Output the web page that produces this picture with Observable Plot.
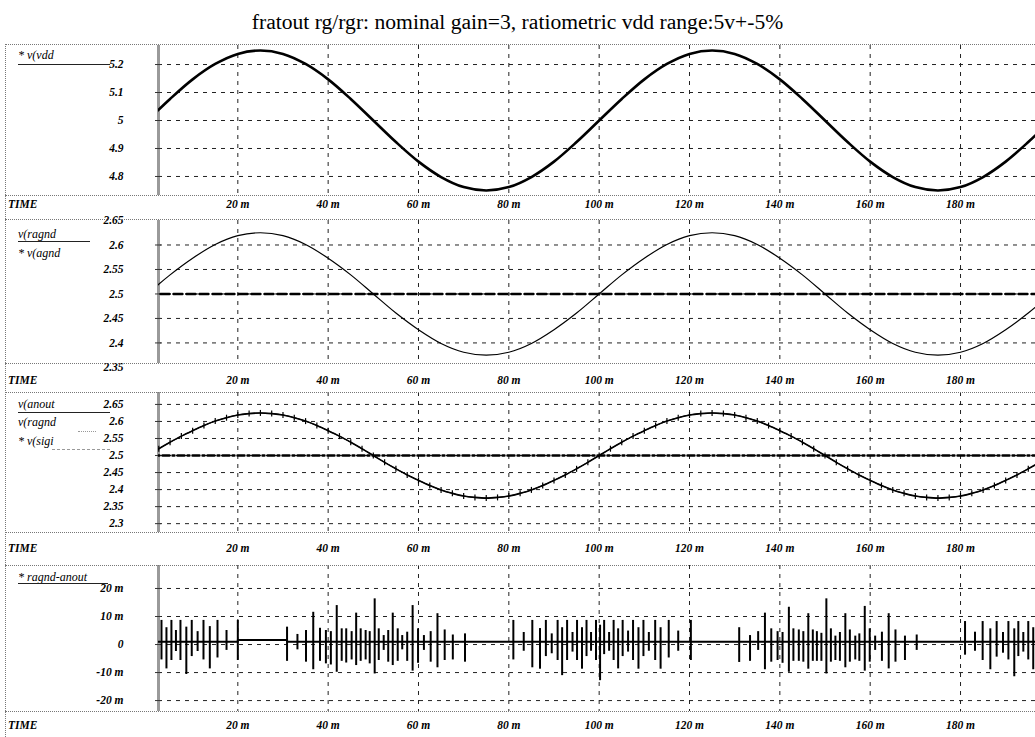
<!DOCTYPE html>
<html>
<head>
<meta charset="utf-8">
<script src="https://cdn.jsdelivr.net/npm/d3@7"></script>
<script src="https://cdn.jsdelivr.net/npm/@observablehq/plot@0.6"></script>
<style>
  html, body { margin: 0; padding: 0; background: #fff; }
  body { position: relative; width: 1035px; height: 737px; overflow: hidden; font-family: "Liberation Serif", "Times New Roman", serif; color: #000; }
  #title { position: absolute; left: 0; top: 11px; width: 1035px; text-align: center; font-size: 21.6px; line-height: 22px; }
  .panel { position: absolute; left: 0; width: 1035px; }
  .panel svg { display: block; }
  .hline { position: absolute; left: 5px; width: 1030px; height: 0; border-top: 1px dotted #777; }
  .vline { position: absolute; left: 5px; top: 44px; width: 0; height: 693px; border-left: 1px dotted #777; }
  .lab { position: absolute; font-style: italic; font-size: 12px; line-height: 12px; white-space: nowrap; }
  .time { font-weight: bold; font-size: 11.5px; }
  .rule { position: absolute; height: 0; }
</style>
</head>
<body>
<div id="title">fratout rg/rgr: nominal gain=3, ratiometric vdd range:5v+-5%</div>
<div class="vline"></div>
<div id="chart"></div>
<script>
// ---- time axis (ms) ----
const timeTicks = [20, 40, 60, 80, 100, 120, 140, 160, 180];
const timeDomain = [2.44, 196.6];

// ---- supply voltage v(vdd), sampled every 5 ms ----
const t5 = [0, 5, 10, 15, 20, 25, 30, 35, 40, 45, 50, 55, 60, 65, 70, 75, 80, 85, 90, 95,
  100, 105, 110, 115, 120, 125, 130, 135, 140, 145, 150, 155, 160, 165, 170, 175, 180, 185, 190, 195, 200];
const vdd = [5.000, 5.077, 5.147, 5.202, 5.238, 5.250, 5.238, 5.202, 5.147, 5.077,
  5.000, 4.923, 4.853, 4.798, 4.762, 4.750, 4.762, 4.798, 4.853, 4.923,
  5.000, 5.077, 5.147, 5.202, 5.238, 5.250, 5.238, 5.202, 5.147, 5.077,
  5.000, 4.923, 4.853, 4.798, 4.762, 4.750, 4.762, 4.798, 4.853, 4.923, 5.000];

// ---- ratiometric ground v(ragnd), sampled every 5 ms ----
const ragnd = [2.500, 2.539, 2.573, 2.601, 2.619, 2.625, 2.619, 2.601, 2.573, 2.539,
  2.500, 2.461, 2.427, 2.399, 2.381, 2.375, 2.381, 2.399, 2.427, 2.461,
  2.500, 2.539, 2.573, 2.601, 2.619, 2.625, 2.619, 2.601, 2.573, 2.539,
  2.500, 2.461, 2.427, 2.399, 2.381, 2.375, 2.381, 2.399, 2.427, 2.461, 2.500];

// ---- fixed references v(agnd) and v(sigi) ----
const tRef = [0, 200];
const agnd = [2.5, 2.5];
const sigi = [2.5, 2.5];

// ---- converter output v(anout), sampled every 2.5 ms ----
const t25 = [0, 2.5, 5, 7.5, 10, 12.5, 15, 17.5, 20, 22.5, 25, 27.5, 30, 32.5, 35, 37.5, 40, 42.5, 45, 47.5,
  50, 52.5, 55, 57.5, 60, 62.5, 65, 67.5, 70, 72.5, 75, 77.5, 80, 82.5, 85, 87.5, 90, 92.5, 95, 97.5,
  100, 102.5, 105, 107.5, 110, 112.5, 115, 117.5, 120, 122.5, 125, 127.5, 130, 132.5, 135, 137.5, 140, 142.5, 145, 147.5,
  150, 152.5, 155, 157.5, 160, 162.5, 165, 167.5, 170, 172.5, 175, 177.5, 180, 182.5, 185, 187.5, 190, 192.5, 195, 197.5, 200];
const anout = [2.500, 2.520, 2.539, 2.557, 2.573, 2.588, 2.601, 2.611, 2.619, 2.623,
  2.625, 2.623, 2.619, 2.611, 2.601, 2.588, 2.573, 2.557, 2.539, 2.520,
  2.500, 2.480, 2.461, 2.443, 2.427, 2.412, 2.399, 2.389, 2.381, 2.377,
  2.375, 2.377, 2.381, 2.389, 2.399, 2.412, 2.427, 2.443, 2.461, 2.480,
  2.500, 2.520, 2.539, 2.557, 2.573, 2.588, 2.601, 2.611, 2.619, 2.623,
  2.625, 2.623, 2.619, 2.611, 2.601, 2.588, 2.573, 2.557, 2.539, 2.520,
  2.500, 2.480, 2.461, 2.443, 2.427, 2.412, 2.399, 2.389, 2.381, 2.377,
  2.375, 2.377, 2.381, 2.389, 2.399, 2.412, 2.427, 2.443, 2.461, 2.480, 2.500];

// ---- difference ragnd-anout (mV): quiet baseline plus step glitches ----
const baseT = [0, 20.0, 20.0, 30.9, 30.9, 200];
const baseV = [1.0, 1.0, 1.6, 1.6, 1.0, 1.0];
const spikeT = [3.1, 4.2, 5.3, 6.3, 7.3, 8.6, 9.8, 11.1, 12.4, 13.8, 15.5, 17.5, 20.0,
  30.9, 33.2, 35.1, 36.7, 38.2, 39.5, 40.6, 41.9, 43.0, 44.0, 45.2, 46.2, 47.2, 48.3, 49.2, 50.3,
  51.2, 52.3, 53.3, 54.3, 55.4, 56.4, 57.5, 58.7, 59.9, 61.2, 62.7, 64.2, 65.8, 67.6, 70.3,
  81.0, 83.3, 85.2, 86.9, 88.2, 89.5, 90.8, 91.8, 92.9, 94.1, 95.1, 96.2, 97.2, 98.2, 99.3, 100.2,
  101.1, 102.2, 103.2, 104.2, 105.2, 106.4, 107.5, 108.7, 109.8, 111.0, 112.4, 113.6, 115.4, 117.5, 120.3,
  131.0, 133.4, 135.2, 136.7, 138.1, 139.5, 140.6, 142.0, 143.0, 144.2, 145.2, 146.3, 147.3, 148.2, 149.2,
  150.3, 151.3, 152.3, 153.3, 154.5, 155.5, 156.7, 157.6, 158.8, 159.9, 161.1, 162.6, 164.1, 165.6, 167.7, 170.3,
  181.0, 183.2, 184.9, 186.6, 188.0, 189.4, 190.6, 191.9, 192.8, 193.9, 195.0, 196.1];
const spikeHi = [8.6, 6.0, 8.6, 5.0, 8.6, 6.2, 8.6, 4.6, 8.6, 6.4, 8.6, 5.0, 8.6,
  6.2, 3.6, 5.0, 11.5, 5.8, 5.0, 4.6, 13.9, 5.6, 5.6, 4.6, 11.2, 5.6, 5.0, 4.6, 16.3,
  5.6, 3.2, 5.0, 11.2, 5.6, 3.2, 4.4, 13.9, 5.6, 3.2, 4.6, 11.0, 5.2, 3.4, 3.8,
  8.6, 4.3, 8.6, 5.7, 8.6, 3.8, 8.6, 6.0, 8.6, 4.3, 8.6, 6.0, 8.6, 4.3, 8.6, 6.9,
  8.6, 4.3, 8.6, 5.6, 8.6, 4.8, 8.6, 6.0, 8.6, 4.3, 8.6, 6.0, 8.6, 4.8, 8.6,
  6.0, 3.2, 4.6, 11.2, 5.6, 4.6, 4.3, 13.3, 5.6, 5.2, 4.6, 11.0, 5.2, 4.6, 4.0,
  16.3, 5.6, 3.0, 4.3, 11.0, 5.2, 3.0, 3.8, 13.6, 5.6, 3.0, 4.4, 11.0, 5.2, 3.0, 3.4,
  8.2, 4.4, 8.2, 5.6, 8.2, 4.3, 8.2, 5.6, 8.2, 4.3, 8.2, 6.0];
const spikeLo = [-5.5, -8.7, -5.7, -2.5, -5.7, -10.7, -4.3, -2.5, -5.5, -8.7, -4.8, -2.1, -5.7,
  -6.0, -1.9, -6.3, -9.0, -6.0, -6.9, -7.3, -9.9, -6.0, -6.6, -5.5, -7.5, -6.0, -5.5, -6.9, -10.5,
  -5.7, -2.1, -6.3, -7.5, -6.0, -1.9, -6.0, -9.5, -6.7, -2.1, -6.3, -8.3, -5.7, -5.5, -6.3,
  -5.5, -2.4, -8.3, -8.8, -4.3, -3.3, -5.7, -11.1, -5.7, -2.7, -5.7, -8.8, -4.3, -2.4, -5.7, -12.9,
  -3.6, -2.4, -5.7, -8.7, -4.3, -2.7, -5.7, -8.8, -4.3, -2.4, -5.7, -8.8, -4.8, -2.4, -5.7,
  -6.4, -6.0, -2.1, -9.0, -6.3, -5.7, -6.7, -9.9, -6.0, -6.0, -6.3, -8.8, -6.0, -6.0, -6.0,
  -10.5, -6.3, -5.7, -6.0, -8.3, -6.3, -5.5, -6.0, -9.5, -6.3, -2.1, -6.0, -8.7, -6.3, -5.7, -2.1,
  -3.8, -2.4, -5.7, -9.0, -4.5, -3.1, -5.5, -11.5, -4.3, -2.7, -5.5, -9.0];

// ---- tables built from the arrays above ----
const zip = (ts, vs) => ts.map((t, i) => ({t, v: vs[i]}));
const vddRows = zip(t5, vdd);
const ragndRows = zip(t5, ragnd);
const agndRows = zip(tRef, agnd);
const sigiRows = zip(tRef, sigi);
const anoutRows = zip(t25, anout);
const baseRows = zip(baseT, baseV);
const spikeRows = spikeT.map((t, i) => ({t, hi: spikeHi[i], lo: spikeLo[i]}));

const numFmt = d => String(+d.toFixed(2));
const milliFmt = d => d === 0 ? "0" : `${d} m`;

// small vertical tick used as the trace marker on v(anout)
const vTick = {
  draw(context, size) {
    const h = Math.sqrt(size / Math.PI);
    context.moveTo(0, -h);
    context.lineTo(0, h);
  }
};

const gridStyle = {stroke: "#222", strokeOpacity: 1, strokeWidth: 1, strokeDasharray: "4,5"};

// yLabels may include values just past the panel edge (labelled, but without a grid line)
function panel({top, plotH, bottomH, domain, yTicks, yLabels = yTicks, yFmt, xPad, marks}) {
  const chart = Plot.plot({
    width: 1035,
    height: plotH + bottomH,
    marginLeft: 158,
    marginRight: 0,
    marginTop: 0,
    marginBottom: bottomH,
    style: {fontFamily: "'Liberation Serif', 'Times New Roman', serif", fontSize: "11.5px", fontStyle: "italic", fontWeight: "bold", color: "#000", background: "transparent", overflow: "visible"},
    x: {domain: timeDomain, label: null},
    y: {domain, label: null},
    marks: [
      Plot.gridX({ticks: timeTicks, ...gridStyle}),
      Plot.gridY({ticks: yTicks, ...gridStyle}),
      Plot.ruleX([timeDomain[0]], {stroke: "#9a9a9a", strokeWidth: 3}),
      Plot.axisY({ticks: yTicks, tickSize: 6, dx: 3, tickFormat: () => "", stroke: "#333", label: null}),
      Plot.axisY({ticks: yLabels, tickSize: 0, tickPadding: 35, tickFormat: yFmt, fill: "#000", label: null}),
      Plot.axisX({ticks: timeTicks, tickSize: 0, tickPadding: xPad, tickFormat: d => `${d} m`, fill: "#000", label: null}),
      ...marks
    ]
  });
  const wrap = document.createElement("div");
  wrap.className = "panel";
  wrap.style.top = top + "px";
  wrap.appendChild(chart);
  document.getElementById("chart").appendChild(wrap);
}

// v(vdd)
panel({
  top: 45, plotH: 150, bottomH: 24, domain: [4.732, 5.268],
  yTicks: [4.8, 4.9, 5, 5.1, 5.2], yFmt: numFmt, xPad: 4.5,
  marks: [Plot.line(vddRows, {x: "t", y: "v", curve: "catmull-rom", stroke: "#000", strokeWidth: 2.6, clip: true})]
});

// v(ragnd), v(agnd)
panel({
  top: 220, plotH: 143, bottomH: 29, domain: [2.358, 2.65],
  yTicks: [2.4, 2.45, 2.5, 2.55, 2.6], yLabels: [2.35, 2.4, 2.45, 2.5, 2.55, 2.6, 2.65], yFmt: numFmt, xPad: 12.5,
  marks: [
    Plot.line(agndRows, {x: "t", y: "v", stroke: "#000", strokeWidth: 2.4, strokeDasharray: "9,4", clip: true}),
    Plot.line(ragndRows, {x: "t", y: "v", curve: "catmull-rom", stroke: "#000", strokeWidth: 1.2, clip: true})
  ]
});

// v(anout), v(ragnd), v(sigi)
panel({
  top: 392, plotH: 140, bottomH: 33, domain: [2.274, 2.685],
  yTicks: [2.3, 2.35, 2.4, 2.45, 2.5, 2.55, 2.6, 2.65], yFmt: numFmt, xPad: 11.5,
  marks: [
    Plot.line(sigiRows, {x: "t", y: "v", stroke: "#000", strokeWidth: 2.4, strokeDasharray: "7,3,2,3", clip: true}),
    Plot.line(ragndRows, {x: "t", y: "v", curve: "catmull-rom", stroke: "#000", strokeWidth: 1, clip: true}),
    Plot.line(anoutRows, {x: "t", y: "v", curve: "catmull-rom", stroke: "#000", strokeWidth: 1.6, clip: true}),
    Plot.dot(anoutRows, {x: "t", y: "v", symbol: vTick, r: 3, stroke: "#000", fill: "none", strokeWidth: 1.2, clip: true})
  ]
});

// ragnd-anout
panel({
  top: 565, plotH: 146, bottomH: 26, domain: [-23.9, 28.2],
  yTicks: [-20, -10, 0, 10, 20], yFmt: milliFmt, xPad: 9.5,
  marks: [
    Plot.line(baseRows, {x: "t", y: "v", stroke: "#000", strokeWidth: 2, clip: true}),
    Plot.ruleX(spikeRows, {x: "t", y1: "lo", y2: "hi", stroke: "#000", strokeWidth: 2, clip: true})
  ]
});

// panel borders, TIME rows and trace names in the left column
const body = document.body;
function add(cls, css, text) {
  const el = document.createElement("div");
  el.className = cls;
  Object.assign(el.style, css);
  if (text != null) el.textContent = text;
  body.appendChild(el);
  return el;
}
[44, 195, 219, 363, 392, 532, 565, 711].forEach(y => add("hline", {top: y + "px"}));
[198, 374, 542, 719].forEach(y => add("lab time", {left: "8px", top: y + "px"}, "TIME"));

add("lab", {left: "18px", top: "49px"}, "* v(vdd");
add("rule", {left: "18px", top: "64px", width: "92px", borderTop: "1px solid #222"});

add("lab", {left: "18px", top: "228px"}, "v(ragnd");
add("rule", {left: "18px", top: "241px", width: "72px", borderTop: "1px solid #222"});
add("lab", {left: "18px", top: "247px"}, "* v(agnd");

add("lab", {left: "18px", top: "398px"}, "v(anout");
add("rule", {left: "18px", top: "412px", width: "92px", borderTop: "1px solid #222"});
add("lab", {left: "18px", top: "416px"}, "v(ragnd");
add("rule", {left: "78px", top: "431px", width: "18px", borderTop: "1px dotted #999"});
add("lab", {left: "18px", top: "435px"}, "* v(sigi");
add("rule", {left: "52px", top: "449px", width: "58px", borderTop: "1px dashed #999"});

add("lab", {left: "18px", top: "571px"}, "* ragnd-anout");
add("rule", {left: "18px", top: "583px", width: "90px", borderTop: "1px solid #222"});
</script>
</body>
</html>
